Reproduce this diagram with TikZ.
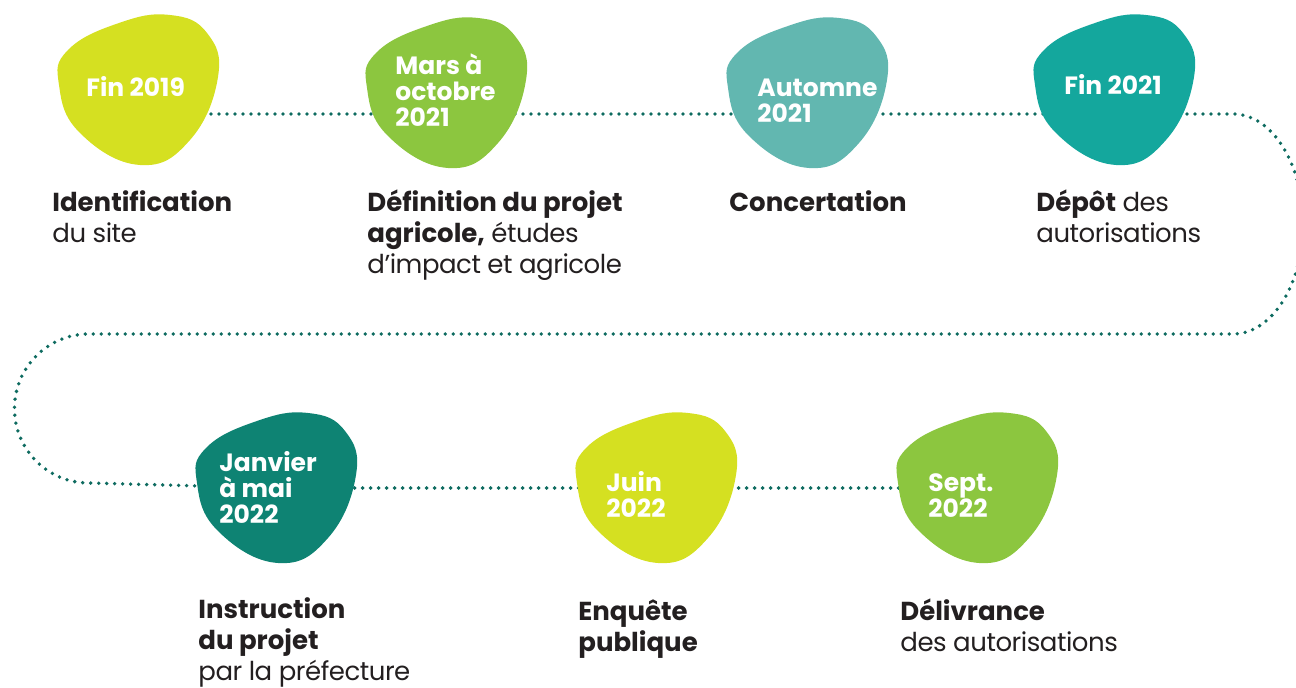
\documentclass[tikz,border=0pt]{standalone}
\usepackage{fontspec}
\setmainfont{Poppins}[UprightFeatures={LetterSpace=-1.8}]
\usetikzlibrary{positioning}

\definecolor{lime}{HTML}{D5E021}
\definecolor{leaf}{HTML}{8CC63F}
\definecolor{sea}{HTML}{62B7B0}
\definecolor{teal}{HTML}{14A79D}
\definecolor{deepteal}{HTML}{0E8373}
\definecolor{dotcol}{HTML}{0E6B60}
\definecolor{ink}{HTML}{231F20}

\tikzset{
  datetext/.style={text=white, font=\fontsize{12.5}{13}\selectfont\bfseries,
    align=left, anchor=base west, inner sep=0pt},
  steptext/.style={text=ink, font=\fontsize{13}{15.5}\selectfont,
    align=left, anchor=base west, inner sep=0pt},
  dotpath/.style={draw=dotcol, line width=1.9pt, line cap=round,
    dash pattern=on 0pt off 4pt},
}

% pebble shape around a centre
\newcommand{\pebble}[2]{%
  \fill[#2, shift={(#1)}] plot[smooth cycle, tension=0.75] coordinates
    {(31,-75) (-20,-67) (-71,-40) (-80,-5) (-59,43) (1,75) (51,50) (79,-13) (68,-57)};}

\begin{document}
\begin{tikzpicture}[x=0.5pt, y=-0.5pt]
  \useasboundingbox (0,0) rectangle (1296,688);

  % centres of the pebbles
  \coordinate (b1) at (139,90);
  \coordinate (b2) at (447,93);
  \coordinate (b3) at (808,93);
  \coordinate (b4) at (1115,90);
  \coordinate (b5) at (277,488);
  \coordinate (b6) at (657,488);
  \coordinate (b7) at (978,488);

  % timeline
  \coordinate (turnR) at (1233,114);
  \coordinate (turnL) at (89,334);
  \draw[dotpath] (b1 |- turnR) -- (b2 |- turnR) -- (b3 |- turnR) -- (b4 |- turnR) -- (turnR)
    arc[start angle=-90, end angle=90, x radius=70, y radius=110]
    -- (turnL)
    arc[start angle=-90, end angle=-270, radius=74.5]
    -- (b5) -- (b6) -- (b7);

  \pebble{b1}{lime}
  \pebble{b2}{leaf}
  \pebble{b3}{sea}
  \pebble{b4}{teal}
  \pebble{b5}{deepteal}
  \pebble{b6}{lime}
  \pebble{b7}{leaf}

  % dates (anchored on the last line)
  \node[datetext] (d1) at (86,97) {Fin 2019};
  \node[datetext] (d2) at (395,127) {Mars à\\octobre\\2021};
  \node[datetext] (d3) at (757,123) {Automne\\2021};
  \node[datetext] (d4) at (1064,95) {Fin 2021};
  \node[datetext] (d5) at (219,524) {Janvier\\à mai\\2022};
  \node[datetext] (d6) at (606,518) {Juin\\2022};
  \node[datetext] (d7) at (928,518) {Sept.\\2022};

  % steps (anchored on the last line)
  \node[steptext] (s1) at (52,243) {\textbf{Identification}\\du site};
  \node[steptext] (s2) at (367,274) {\textbf{Définition du projet}\\\textbf{agricole,} études\\d’impact et agricole};
  \node[steptext] (s3) at (729,212) {\textbf{Concertation}};
  \node[steptext] (s4) at (1036,243) {\textbf{Dépôt} des\\autorisations};
  \node[steptext] (s5) at (198,681) {\textbf{Instruction}\\\textbf{du projet}\\par la préfecture};
  \node[steptext] (s6) at (578,652) {\textbf{Enquête}\\\textbf{publique}};
  \node[steptext] (s7) at (900,652) {\textbf{Délivrance}\\des autorisations};
\end{tikzpicture}
\end{document}
